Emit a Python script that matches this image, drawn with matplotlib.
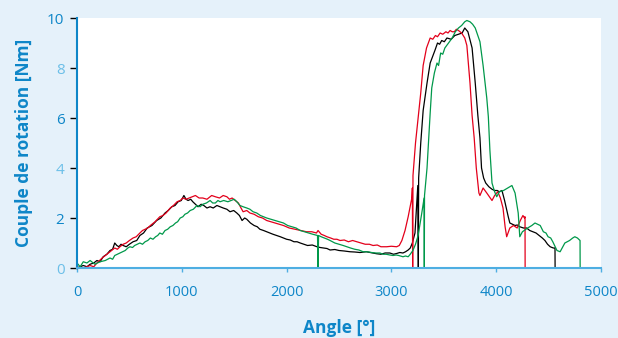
import matplotlib
matplotlib.use("Agg")
import matplotlib.pyplot as plt

# ---------------- data ----------------
black_x = [0, 30, 60, 95, 125, 160, 190, 220, 250, 285, 315, 340, 360, 380, 400, 420, 440, 470, 500, 535,
           570, 600, 635, 670, 715, 760, 800, 840, 870, 905, 935, 965, 995, 1020,
           1040, 1060, 1085, 1105, 1130, 1155, 1185, 1210, 1240, 1270, 1300, 1335, 1365, 1395, 1430,
           1460, 1495, 1525, 1550, 1575, 1600, 1620, 1655, 1690, 1720, 1745, 1780, 1810, 1840, 1870,
           1905, 1940, 1970, 2000, 2035, 2070, 2100, 2130, 2165, 2200, 2245, 2290, 2320, 2350, 2385,
           2415, 2460, 2500, 2550, 2605, 2650, 2700, 2760, 2825, 2860, 2900, 2940, 2985, 3020, 3050,
           3080, 3110, 3135, 3160, 3180, 3200, 3225, 3243, 3252, 3257, 3260, 3280, 3303, 3340, 3370,
           3415, 3440, 3460, 3480, 3505, 3530, 3570, 3605, 3640, 3675, 3700, 3730, 3770, 3800, 3825,
           3845, 3860, 3880, 3900, 3930, 3960, 3985, 4010, 4030, 4055, 4080, 4115, 4130, 4155, 4180,
           4200, 4225, 4260, 4290, 4320, 4350, 4380, 4410, 4440, 4465, 4490, 4515, 4545, 4561, 4562]
black_y = [0.0, 0.05, 0.1, 0.05, 0.15, 0.2, 0.3, 0.25, 0.45, 0.55, 0.7, 0.75, 1.0, 0.9, 0.85, 0.95, 0.9, 0.85, 0.95, 1.05,
           1.1, 1.3, 1.4, 1.6, 1.7, 1.9, 2.0, 2.2, 2.3, 2.45, 2.5, 2.65, 2.7, 2.9,
           2.75, 2.7, 2.75, 2.65, 2.55, 2.45, 2.55, 2.5, 2.4, 2.45, 2.4, 2.5, 2.45, 2.4, 2.35,
           2.25, 2.3, 2.2, 2.1, 1.9, 2.0, 1.95, 1.8, 1.7, 1.65, 1.55, 1.5, 1.45, 1.4, 1.35,
           1.3, 1.25, 1.2, 1.15, 1.12, 1.05, 1.05, 1.0, 0.95, 0.9, 0.92, 0.85, 0.82, 0.8, 0.78,
           0.72, 0.74, 0.7, 0.68, 0.65, 0.64, 0.62, 0.65, 0.6, 0.57, 0.55, 0.6, 0.6, 0.55, 0.58,
           0.62, 0.6, 0.65, 0.72, 0.8, 1.0, 1.4, 2.7, 3.3, 0.0, 3.6, 5.0, 6.3, 7.4, 8.2,
           8.7, 9.0, 8.95, 9.1, 9.05, 9.2, 9.15, 9.3, 9.35, 9.4, 9.6, 9.45, 8.8, 7.4, 6.1,
           5.2, 4.0, 3.6, 3.4, 3.25, 3.15, 3.1, 3.1, 3.05, 3.1, 2.7, 2.05, 1.8, 1.75, 1.7,
           1.72, 1.65, 1.6, 1.6, 1.5, 1.45, 1.4, 1.3, 1.2, 1.1, 0.95, 0.85, 0.8, 0.8, 0.0]

red_x = [0, 30, 60, 95, 125, 160, 190, 215, 240, 270, 300, 330, 360, 385, 410, 440, 470, 500, 535, 565,
         600, 625, 650, 675, 700, 745, 790, 820, 850, 870, 890, 920, 955, 985, 1010, 1040, 1070,
         1100, 1130, 1165, 1200, 1240, 1285, 1320, 1360, 1395, 1430, 1455, 1480, 1510, 1540, 1565,
         1585, 1620, 1650, 1690, 1730, 1770, 1810, 1850, 1890, 1930, 1970, 2025, 2080, 2135, 2190,
         2240, 2285, 2300, 2330, 2360, 2385, 2420, 2450, 2480, 2510, 2550, 2590, 2630, 2670, 2710,
         2750, 2790, 2825, 2865, 2900, 2955, 3000, 3050, 3075, 3100, 3130,
         3160, 3195, 3200, 3203, 3206, 3230, 3257, 3280, 3303, 3335, 3370, 3395, 3420, 3440, 3465,
         3490, 3520, 3540, 3560, 3580, 3600, 3620, 3640, 3670, 3700, 3720, 3750, 3770, 3790, 3810,
         3835, 3845, 3875, 3910, 3960, 3985, 4015, 4040, 4065, 4085, 4100, 4130, 4165, 4200, 4230,
         4255, 4270, 4275, 4276]
red_y = [0.05, 0.0, 0.0, 0.05, 0.1, 0.05, 0.2, 0.3, 0.4, 0.5, 0.6, 0.7, 0.8, 0.75, 0.85, 0.95, 1.0, 1.1, 1.2, 1.25,
         1.4, 1.5, 1.55, 1.6, 1.7, 1.85, 2.05, 2.1, 2.2, 2.3, 2.4, 2.5, 2.65, 2.7, 2.8, 2.75, 2.8,
         2.85, 2.9, 2.8, 2.8, 2.75, 2.9, 2.85, 2.8, 2.9, 2.85, 2.75, 2.8, 2.7, 2.6, 2.4,
         2.25, 2.3, 2.2, 2.15, 2.05, 2.0, 1.9, 1.85, 1.8, 1.75, 1.7, 1.6, 1.55, 1.5, 1.45,
         1.45, 1.4, 1.5, 1.35, 1.3, 1.25, 1.2, 1.15, 1.15, 1.1, 1.12, 1.05, 1.1, 1.05, 1.0,
         0.95, 0.95, 0.9, 0.92, 0.85, 0.85, 0.87, 0.85, 0.9, 1.1, 1.5,
         2.05, 2.8, 3.2, 0.0, 3.7, 5.0, 6.1, 7.0, 8.1, 8.8, 9.2, 9.15, 9.3, 9.25, 9.4,
         9.35, 9.45, 9.4, 9.5, 9.45, 9.45, 9.55, 9.5, 9.4, 9.2, 8.9, 7.4, 6.1, 5.2, 4.0,
         3.0, 2.9, 3.2, 3.0, 2.7, 2.9, 3.05, 2.8, 2.4, 1.65, 1.25, 1.6, 1.7, 1.6, 1.9,
         2.1, 2.0, 2.05, 0.0]

green_x = [0, 30, 60, 95, 125, 170, 220, 270, 315, 340, 360, 385, 410, 435, 460, 485, 505, 530, 550, 575,
           600, 625, 650, 675, 700, 725, 750, 770, 790, 815, 840, 865, 890, 915, 940, 960, 985, 1010,
           1030, 1055, 1080, 1110, 1145, 1175, 1200, 1235, 1270, 1295, 1320, 1345, 1365, 1400, 1440,
           1470, 1500, 1525, 1555, 1585, 1620, 1650, 1680, 1715, 1750, 1780, 1810, 1850, 1890, 1930,
           1970, 2010, 2050, 2090, 2130, 2170, 2210, 2250, 2295, 2300, 2305, 2330, 2360, 2390, 2415,
           2460, 2500, 2540, 2575, 2610, 2650, 2690, 2730, 2770, 2810, 2850, 2890, 2920, 2950, 2985,
           3015, 3045, 3070, 3110, 3135, 3160, 3180, 3205, 3230, 3255, 3290, 3312, 3314, 3316, 3340,
           3370, 3385, 3410, 3435, 3450, 3470, 3490, 3510, 3545, 3580, 3610, 3640, 3670, 3700, 3720, 3750, 3775,
           3800, 3825, 3845, 3875, 3910, 3925, 3940, 3960, 3985, 4005, 4030, 4070, 4110, 4150, 4180,
           4210, 4225, 4250, 4300, 4340, 4370, 4395, 4420, 4450, 4475, 4495, 4520, 4540, 4580, 4610,
           4655, 4700, 4730, 4750, 4775, 4800, 4801]
green_y = [0.2, 0.05, 0.25, 0.2, 0.3, 0.15, 0.25, 0.3, 0.4, 0.35, 0.5, 0.55, 0.6, 0.65, 0.7, 0.8, 0.85, 0.82, 0.9, 0.95,
           1.0, 0.95, 1.05, 1.1, 1.2, 1.15, 1.25, 1.3, 1.4, 1.35, 1.5, 1.55, 1.65, 1.7, 1.8, 1.85, 2.0, 2.05,
           2.15, 2.2, 2.3, 2.35, 2.5, 2.45, 2.55, 2.6, 2.7, 2.6, 2.6, 2.7, 2.65, 2.7, 2.65,
           2.7, 2.75, 2.65, 2.5, 2.45, 2.4, 2.35, 2.25, 2.2, 2.1, 2.05, 2.0, 1.95, 1.9, 1.85,
           1.8, 1.7, 1.65, 1.6, 1.5, 1.45, 1.4, 1.35, 1.3, 0.0, 1.3, 1.25, 1.2, 1.15, 1.1,
           1.0, 0.95, 0.9, 0.85, 0.8, 0.75, 0.72, 0.65, 0.65, 0.62, 0.6, 0.6, 0.55, 0.55, 0.52,
           0.5, 0.52, 0.5, 0.45, 0.48, 0.45, 0.55, 0.7, 0.95, 1.3, 2.2, 2.8, 0.0, 2.9, 4.0,
           6.2, 7.2, 7.8, 8.2, 8.1, 8.6, 8.55, 8.8, 9.0, 9.2, 9.45, 9.6, 9.7, 9.85, 9.9, 9.85, 9.75,
           9.6, 9.3, 9.05, 8.1, 6.8, 6.05, 4.7, 3.4, 3.05, 2.85, 3.05, 3.1, 3.2, 3.3, 3.0,
           2.2, 1.25, 1.45, 1.6, 1.7, 1.8, 1.75, 1.7, 1.45, 1.4, 1.25, 1.2, 1.05, 0.7, 0.65,
           1.0, 1.1, 1.2, 1.25, 1.2, 1.1, 0.0]

x_ticks = [0, 1000, 2000, 3000, 4000, 5000]
y_ticks = [0, 2, 4, 6, 8, 10]

# ---------------- style ----------------
BG = "#e5f1fa"
DARK = "#0e86c8"
LIGHT = "#6cbfe8"
plt.rcParams['font.family'] = ['Open Sans', 'DejaVu Sans']

fig = plt.figure(figsize=(6.18, 3.38), dpi=100, facecolor=BG)
ax = fig.add_axes([77 / 618, 1 - 268 / 338, 524 / 618, 250 / 338])
ax.set_facecolor("white")

ax.plot(black_x, black_y, color="black", lw=0.9)
ax.plot(red_x, red_y, color="#e3001b", lw=0.9)
ax.plot(green_x, green_y, color="#00984a", lw=0.9)

ax.set_xlim(0, 5000)
ax.set_ylim(0, 10)
ax.set_xticks(x_ticks)
ax.set_yticks(y_ticks)

for s in ("top", "right"):
    ax.spines[s].set_visible(False)
ax.spines["left"].set_color(DARK)
ax.spines["left"].set_linewidth(1.5)
ax.spines["bottom"].set_color("#4eaee2")
ax.spines["bottom"].set_linewidth(1.5)

ax.tick_params(axis="x", direction="out", length=3, width=1, color="#4eaee2",
               labelcolor=DARK, labelsize=10.5, pad=9)
ax.tick_params(axis="y", direction="out", length=5, width=1, labelsize=11, pad=4)
for val, lab, tk in zip(y_ticks, ax.get_yticklabels(), ax.yaxis.get_major_ticks()):
    c = DARK if val in (2, 6, 10) else LIGHT
    lab.set_color(c)
    tk.tick1line.set_color(c)

ax.set_xlabel("Angle [°]", color=DARK, fontsize=12.5, fontweight="bold", labelpad=14)
ax.set_ylabel("Couple de rotation [Nm]", color=DARK, fontsize=12.5, fontweight="bold", labelpad=10)

fig.savefig("out.png", dpi=100, facecolor=BG)
